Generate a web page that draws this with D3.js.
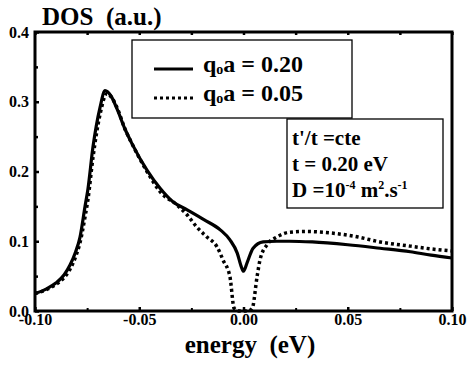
<!DOCTYPE html>
<html>
<head>
<meta charset="utf-8">
<script src="https://cdn.jsdelivr.net/npm/d3@7"></script>
<style>
  body { margin: 0; background: #fff; }
  svg { display: block; }
</style>
</head>
<body>
<div id="chart"></div>
<script>
// energy (eV) and DOS (a.u.)
const energySolid = [-0.100, -0.095, -0.090, -0.086, -0.0832, -0.0805, -0.0784, -0.076, -0.0746, -0.0722, -0.0688, -0.0664,
  -0.0635, -0.0607, -0.057, -0.0535, -0.0463, -0.040, -0.034, -0.027, -0.019, -0.011, -0.0065,
  -0.003, -0.001, 0.000, 0.0017, 0.0046, 0.0094, 0.016, 0.022, 0.033, 0.050, 0.0655, 0.080, 0.090, 0.100];
const dosSolid = [0.025, 0.031, 0.040, 0.052, 0.066, 0.085, 0.106, 0.150, 0.175, 0.235, 0.292, 0.316,
  0.308, 0.290, 0.262, 0.240, 0.202, 0.176, 0.157, 0.145, 0.131, 0.116, 0.102,
  0.083, 0.063, 0.057, 0.069, 0.090, 0.099, 0.100, 0.100, 0.099, 0.095, 0.090, 0.085, 0.080, 0.076];

const energyDotted = [-0.100, -0.095, -0.090, -0.086, -0.0832, -0.0805, -0.0784, -0.076, -0.0746, -0.0722, -0.0688, -0.0655,
  -0.063, -0.0600, -0.057, -0.0535, -0.0463, -0.040, -0.0319, -0.0271, -0.0223, -0.0175, -0.0127,
  -0.0098, -0.0065, -0.0045, -0.002, 0.000, 0.002, 0.0042, 0.0065, 0.0079, 0.0113, 0.016, 0.0223,
  0.030, 0.0415, 0.055, 0.0655, 0.080, 0.090, 0.100];
const dosDotted = [0.025, 0.030, 0.038, 0.048, 0.060, 0.078, 0.098, 0.135, 0.160, 0.220, 0.282, 0.312,
  0.305, 0.287, 0.262, 0.240, 0.200, 0.171, 0.152, 0.138, 0.120, 0.106, 0.092,
  0.073, 0.049, 0.004, 0.000, 0.000, 0.000, 0.004, 0.049, 0.073, 0.095, 0.106, 0.113,
  0.114, 0.112, 0.106, 0.099, 0.093, 0.089, 0.086];

const xMajorTicks = [-0.10, -0.05, 0.00, 0.05, 0.10];
const xMinorTicks = [-0.075, -0.025, 0.025, 0.075];
const yMajorTicks = [0.0, 0.1, 0.2, 0.3, 0.4];
const yMinorTicks = [0.05, 0.15, 0.25, 0.35];

const FONT = '"Liberation Serif", "Times New Roman", Tinos, "DejaVu Serif", serif';

const width = 467, height = 374;
const margin = {left: 35, top: 32, right: 15, bottom: 63};
const plotW = width - margin.left - margin.right;
const plotH = height - margin.top - margin.bottom;

const svg = d3.select("#chart").append("svg").attr("width", width).attr("height", height)
  .attr("font-family", FONT).attr("font-weight", "bold");

const x = d3.scaleLinear().domain([-0.1, 0.1]).range([0, plotW]);
const y = d3.scaleLinear().domain([0, 0.4]).range([plotH, 0]);

const g = svg.append("g").attr("transform", `translate(${margin.left},${margin.top})`);

function label(sel, size) {
  return sel.style("font-family", FONT).style("font-weight", "bold")
    .style("font-size", size + "px").attr("fill", "#000");
}

// curves
const line = d3.line().x(d => x(d[0])).y(d => y(d[1])).curve(d3.curveMonotoneX);

g.append("path").datum(d3.zip(energyDotted, dosDotted))
  .attr("d", line).attr("fill", "none").attr("stroke", "#000")
  .attr("stroke-width", 3.5).attr("stroke-dasharray", "3,3");

g.append("path").datum(d3.zip(energySolid, dosSolid))
  .attr("d", line).attr("fill", "none").attr("stroke", "#000")
  .attr("stroke-width", 3.2);

// axes: ticks inward, labels drawn by the bottom / left axes
const xAxis = d3.axisBottom(x).tickValues(xMajorTicks).tickSizeInner(-4).tickSizeOuter(0)
  .tickPadding(3).tickFormat(d => d3.format(".2f")(d).replace("−", "-"));
const xAxisG = g.append("g").attr("transform", `translate(0,${plotH})`).call(xAxis);

const yAxis = d3.axisLeft(y).tickValues(yMajorTicks).tickSizeInner(-4).tickSizeOuter(0)
  .tickPadding(6).tickFormat(d3.format(".1f"));
const yAxisG = g.append("g").call(yAxis);

[xAxisG, yAxisG].forEach(a => {
  a.attr("font-family", null).attr("font-size", null);
  a.select(".domain").remove();
  a.selectAll("line").attr("stroke-width", 2.5);
  label(a.selectAll("text"), 16);
});

g.append("g").attr("transform", `translate(0,${plotH})`)
  .call(d3.axisBottom(x).tickValues(xMinorTicks).tickSize(-3).tickFormat(""))
  .call(a => a.select(".domain").remove())
  .selectAll("line").attr("stroke-width", 2);

g.append("g")
  .call(d3.axisTop(x).tickValues(xMajorTicks.concat(xMinorTicks)).tickSize(-3).tickFormat(""))
  .call(a => a.select(".domain").remove())
  .selectAll("line").attr("stroke-width", 2.5);

g.append("g")
  .call(d3.axisLeft(y).tickValues(yMinorTicks).tickSize(-3).tickFormat(""))
  .call(a => a.select(".domain").remove())
  .selectAll("line").attr("stroke-width", 2.5);

// frame
g.append("rect").attr("width", plotW).attr("height", plotH)
  .attr("fill", "none").attr("stroke", "#000").attr("stroke-width", 3);

// axis titles
label(svg.append("text"), 25).attr("x", 42).attr("y", 25)
  .attr("xml:space", "preserve").text("DOS  (a.u.)");

label(svg.append("text"), 25).attr("x", 250).attr("y", 353).attr("text-anchor", "middle")
  .attr("xml:space", "preserve").text("energy  (eV)");

// legend box
const legendLabels = ["0.20", "0.05"];
const legendDash = [null, "3,3"];
g.append("rect").attr("x", 132 - margin.left).attr("y", 40 - margin.top)
  .attr("width", 220).attr("height", 78)
  .attr("fill", "#fff").attr("stroke", "#000").attr("stroke-width", 1.3);

legendLabels.forEach((lab, i) => {
  const ly = 69 - margin.top + i * 29;
  g.append("line").attr("x1", 154 - margin.left).attr("x2", 193 - margin.left)
    .attr("y1", ly).attr("y2", ly).attr("stroke", "#000").attr("stroke-width", 3.2)
    .attr("stroke-dasharray", legendDash[i]);
  const t = label(g.append("text"), 24).attr("x", 203 - margin.left).attr("y", ly + 3);
  t.append("tspan").text("q");
  t.append("tspan").style("font-size", "14px").attr("dy", 2).text("o");
  t.append("tspan").attr("dy", -2).text("a = " + lab);
});

// parameter box
g.append("rect").attr("x", 287 - margin.left).attr("y", 119 - margin.top)
  .attr("width", 156).attr("height", 89)
  .attr("fill", "#fff").attr("stroke", "#000").attr("stroke-width", 1.3);

const px = 292 - margin.left;
label(g.append("text"), 21).attr("x", px).attr("y", 145 - margin.top).text("t'/t =cte");
label(g.append("text"), 21).attr("x", px).attr("y", 171 - margin.top).text("t = 0.20 eV");
const dText = label(g.append("text"), 21).attr("x", px).attr("y", 197 - margin.top);
dText.append("tspan").text("D =10");
dText.append("tspan").style("font-size", "12px").attr("dy", -8).text("-4");
dText.append("tspan").attr("dy", 8).text(" m");
dText.append("tspan").style("font-size", "12px").attr("dy", -8).text("2");
dText.append("tspan").attr("dy", 8).text(".s");
dText.append("tspan").style("font-size", "12px").attr("dy", -8).text("-1");
</script>
</body>
</html>
